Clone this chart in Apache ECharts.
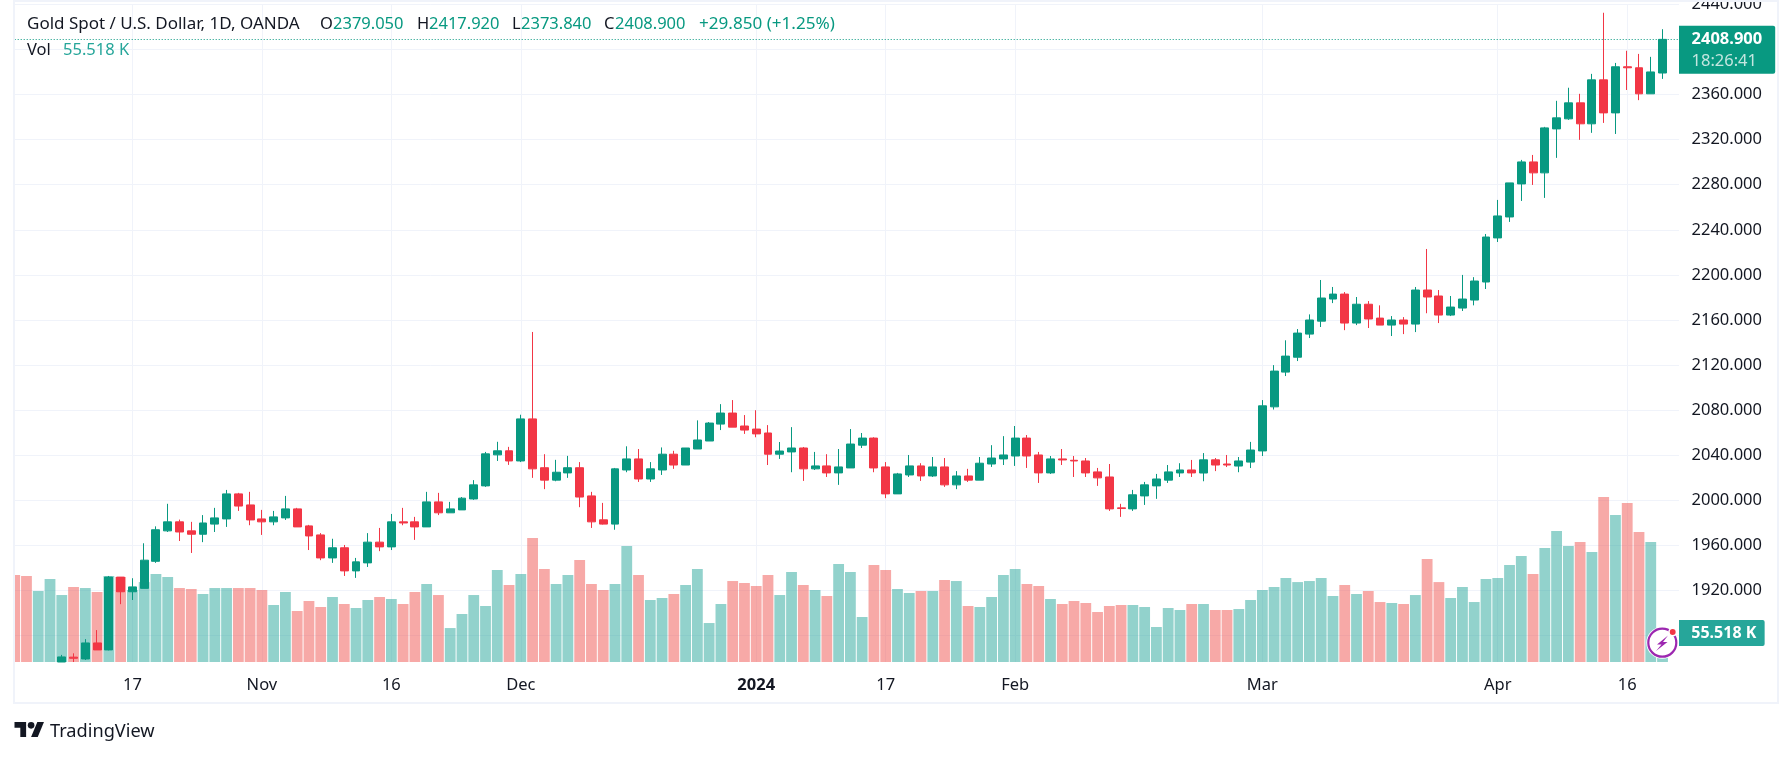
<!DOCTYPE html>
<html><head><meta charset="utf-8">
<style>html,body{margin:0;padding:0;background:#fff}#c{width:1792px;height:757px}</style>
<script src="https://cdn.jsdelivr.net/npm/echarts@6/dist/echarts.min.js"></script>
</head><body><div id="c"></div>
<script>
const dates = ['Oct 3','Oct 4','Oct 5','Oct 6','Oct 9','Oct 10','Oct 11','Oct 12','Oct 13','Oct 16','Oct 17','Oct 18','Oct 19','Oct 20','Oct 23','Oct 24','Oct 25','Oct 26','Oct 27','Oct 30','Oct 31','Nov 1','Nov 2','Nov 3','Nov 6','Nov 7','Nov 8','Nov 9','Nov 10','Nov 13','Nov 14','Nov 15','Nov 16','Nov 17','Nov 20','Nov 21','Nov 22','Nov 23','Nov 24','Nov 27','Nov 28','Nov 29','Nov 30','Dec 1','Dec 4','Dec 5','Dec 6','Dec 7','Dec 8','Dec 11','Dec 12','Dec 13','Dec 14','Dec 15','Dec 18','Dec 19','Dec 20','Dec 21','Dec 22','Dec 26','Dec 27','Dec 28','Dec 29','Jan 2','Jan 3','Jan 4','Jan 5','Jan 8','Jan 9','Jan 10','Jan 11','Jan 12','Jan 15','Jan 16','Jan 17','Jan 18','Jan 19','Jan 22','Jan 23','Jan 24','Jan 25','Jan 26','Jan 29','Jan 30','Jan 31','Feb 1','Feb 2','Feb 5','Feb 6','Feb 7','Feb 8','Feb 9','Feb 12','Feb 13','Feb 14','Feb 15','Feb 16','Feb 19','Feb 20','Feb 21','Feb 22','Feb 23','Feb 26','Feb 27','Feb 28','Feb 29','Mar 1','Mar 4','Mar 5','Mar 6','Mar 7','Mar 8','Mar 11','Mar 12','Mar 13','Mar 14','Mar 15','Mar 18','Mar 19','Mar 20','Mar 21','Mar 22','Mar 25','Mar 26','Mar 27','Mar 28','Apr 1','Apr 2','Apr 3','Apr 4','Apr 5','Apr 8','Apr 9','Apr 10','Apr 11','Apr 12','Apr 15','Apr 16','Apr 17','Apr 18','Apr 19',''];
const openP = [1828,1821,1820,1820,1856.7,1861,1859.4,1873.6,1867.4,1932,1919,1922,1946,1973,1981,1973,1970,1979,1983.6,2005.8,1996,1983.6,1981,1984.5,1992.5,1977.4,1969.4,1949,1958,1937.5,1944.6,1963,1958.8,1981,1981,1976.5,1998.7,1989,1991.6,2001.3,2012.9,2040.4,2044,2035,2072.3,2029,2018,2024.4,2029,2004,1982.8,1979,2027,2036.8,2019,2027,2041,2031.4,2045.6,2052.7,2067.7,2077.5,2066,2063.3,2059.8,2041,2043,2046.5,2028,2030.6,2024.4,2028.8,2049,2055.3,2029.7,2005.8,2022.6,2030.6,2021.7,2029.7,2013.8,2021.7,2018,2032.3,2036.8,2039.4,2055.3,2040.3,2024.4,2036.8,2035.6,2035,2025.3,2020.8,1993.4,1992.5,2004,2012.9,2018,2024.4,2027,2024.3,2036,2032.3,2030.5,2034,2043.9,2083,2113.8,2127,2147.5,2159,2178.6,2183,2157.3,2174,2161.7,2155.5,2160,2156.4,2186.6,2181.3,2164.4,2170.6,2177.7,2193.7,2232.8,2251.4,2280.7,2300.2,2290.5,2329.5,2338.4,2352.6,2334,2373,2343.7,2384.6,2383.7,2360.6,2379.05];
const closeP = [1821,1820,1820,1832,1861.2,1860,1873.6,1867.4,1932,1919,1923.3,1947,1974,1981,1972,1970,1980,1984.5,2005.8,1995,1982.7,1981,1985.4,1992.5,1976.5,1968.5,1949,1958,1937.5,1945.5,1963,1958.8,1981,1980,1976.5,1998.7,1989,1992.5,2002,2013.8,2041.3,2044,2035,2072.3,2028,2018,2025,2029,2003,1981,1979,2028,2036.8,2019,2028,2041,2031.4,2046.5,2053.6,2068.6,2077.5,2065,2062.4,2059,2041,2043.8,2046.5,2028,2030.6,2024.4,2029.7,2050,2055.3,2028.8,2005.8,2023.5,2030.6,2021.7,2029.7,2013.8,2021.7,2018,2033,2037.6,2040.3,2055.3,2039.4,2024.4,2036.8,2035.9,2035,2024.4,2020,1992.5,1992.8,2005,2013.8,2019,2025.3,2027,2024.4,2036,2031.4,2031.4,2035,2044.7,2083.9,2114.7,2128,2148.4,2160,2179.5,2183,2157.3,2174,2160.9,2155.5,2160,2156.4,2186.6,2180.4,2164.4,2171.5,2178.6,2194.6,2233.6,2252.3,2281.6,2300.2,2290.5,2330.4,2339.3,2352.6,2334,2373,2343.7,2384.6,2383.7,2360.6,2380,2408.9];
const lowP = [1815,1815,1813,1818,1856.7,1856.7,1858.5,1867.4,1867,1908,1911.7,1922,1944.6,1972,1964,1953.4,1963,1972,1976.5,1990.7,1978,1969.4,1978,1982.7,1976.5,1956,1947,1944.6,1933,1931.3,1941,1955,1956,1978,1965,1976.5,1987,1989,1991.6,2000.5,2012,2035,2031.5,2034,2020,2010,2017,2020,1994,1975.6,1978.6,1974,2025,2016.4,2016.4,2022.6,2028,2031.4,2045.6,2052.7,2062.4,2065,2059,2056,2031.4,2036.8,2025,2017.3,2027,2020.8,2013.8,2028.8,2046.5,2025,2002,2005.8,2020.8,2017.3,2020.8,2012,2010,2016.4,2018,2029.7,2031.4,2030.6,2028.8,2015.5,2023.5,2031.4,2020.8,2020.8,2012.9,1990.7,1985.4,1990.7,1996,2001.4,2015.5,2020.8,2020.8,2017,2026,2029.6,2025,2028.7,2039.4,2080.6,2110.3,2123.6,2144,2153.8,2175,2151,2155.5,2152.9,2155.5,2145.8,2147.5,2149.3,2166,2157.3,2163.5,2168,2173,2187.5,2229.2,2247,2265.6,2279.8,2268.3,2303.8,2337.5,2319.8,2326,2334.8,2325,2364,2355,2360.6,2373.84];
const highP = [1830,1823,1825,1835,1863,1864.4,1877,1885,1933,1932,1931,1962,1977,1997,1983,1981,1987,1993.4,2009.3,2006.7,2007.6,1991.6,1990.7,2004,1993.4,1978.3,1971,1966,1960.5,1949,1971,1975.6,1988,1993.4,1985.4,2007.6,2006.7,1998.7,2003,2018,2043,2052,2047.5,2076,2149.4,2041,2036,2039.5,2034,2007.6,1997.8,2028.8,2048,2045.6,2034,2047,2044,2046.5,2071,2069.5,2085.4,2089,2075.7,2080,2066.8,2051.8,2065,2047.4,2043,2041,2045.6,2063.3,2059.8,2056,2034,2024.4,2040.3,2033,2038.5,2037.6,2026,2028,2038.5,2049,2057,2066,2058,2043,2039.4,2045.6,2039.4,2037.6,2028.8,2032.3,1997,2009.3,2016.4,2023.5,2031.4,2033,2035.9,2042,2037.6,2040.3,2038.5,2051.9,2089,2120,2142,2152,2165,2195.5,2189.3,2184.8,2180.4,2176.8,2173,2163.5,2162.6,2189.3,2223,2186.6,2181.3,2200,2198,2236.3,2266.5,2281.6,2302,2306.4,2331.3,2354.4,2366,2360.6,2378.3,2432.5,2388,2398.8,2396,2393.4,2417.92];
const volumeK = [166.5,164.6,135.9,158.9,128.2,143.6,141.6,134,164.6,162.7,137.8,153,168.4,162.7,141.6,139.7,130.2,141.6,141.6,141.6,141.6,137.8,109.1,134,97.6,116.8,105.3,124.4,111,103.4,118.7,124.4,120.6,111,134,149.3,128.2,65,91.9,128.2,107.2,176,147.4,168.4,237.3,178,149.3,166.5,195.2,149.3,137.8,149.3,222,166.5,118.7,122.5,130.2,147.4,178,74.6,111,155,151.2,145.5,166.5,128.2,172.3,147.4,137.8,126.3,187.6,172.3,86.1,185.7,176,139.7,132.1,135.9,135.9,157,155,107.2,105.3,124.4,166.5,178,149.3,145.5,120.6,111,116.8,112.9,95.7,107.2,109.1,109.1,105.3,67,103.4,99.5,111,111,99.5,99.5,101.4,118.7,137.8,143.6,160.8,153,155,160.8,126.3,147.4,130.2,135.9,114.8,112.9,111,128.2,197,153,122.5,143.6,114.8,158.9,160.8,185.7,202.9,168.4,218.2,250.7,222,229.7,210.5,315.8,281.4,304.3,248.8,229.7,55.518];
const priceTicks = [1880,1920,1960,2000,2040,2080,2120,2160,2200,2240,2280,2320,2360,2400,2440];
const priceTickLabels = ['','1920.000','1960.000','2000.000','2040.000','2080.000','2120.000','2160.000','2200.000','2240.000','2280.000','2320.000','2360.000','','2440.000'];
const timeTicks = {'Oct 17':'17','Nov 1':'Nov','Nov 16':'16','Dec 1':'Dec','Jan 2':'2024','Jan 17':'17','Feb 1':'Feb','Mar 1':'Mar','Apr 1':'Apr','Apr 16':'16'};
const lastPrice = 2408.9, lastVol = 55.518;

const UP='#089981', DOWN='#F23645', INK='#131722', GRID='#F0F3FA', FONT='"Noto Sans",sans-serif';
const L=14.7, T=4.3, H=657.7, W=1659.6, FW=1664.3, PMIN=1856.7, PMAX=2440, VMAX=1259;
const isUp = i => closeP[i] >= openP[i];
const candles = closeP.map((c,i)=>[openP[i],c,lowP[i],highP[i]]);
const vols = volumeK.map((v,i)=>({value:v,itemStyle:{color:isUp(i)?'rgba(38,166,154,.5)':'rgba(239,83,80,.5)'}}));
const head=(text,left,top,color,size)=>({text,left,top,padding:0,textStyle:{color,fontSize:size||16.5,fontWeight:'normal',fontFamily:FONT}});
const chart=echarts.init(document.getElementById('c'),null,{renderer:'canvas'});
chart.setOption({
  animation:false,backgroundColor:'#fff',
  title:[
    head('Gold Spot / U.S. Dollar, 1D, OANDA',27,16,INK,17),
    head('O',320,16,INK),head('2379.050',333,16,UP),
    head('H',417,16,INK),head('2417.920',429,16,UP),
    head('L',512,16,INK),head('2373.840',521,16,UP),
    head('C',604,16,INK),head('2408.900',615,16,UP),
    head('+29.850 (+1.25%)',699,16,UP,17.1),
    head('Vol',27,42,INK),head('55.518 K',63,42,'#26A69A'),
    head('TradingView',50,723,INK,18.2)
  ],
  grid:[{left:L,top:T,width:W,height:H,outerBoundsMode:'none'},{left:L,top:T,width:FW,height:H,outerBoundsMode:'none'}],
  xAxis:[
    {type:'category',gridIndex:0,data:dates,boundaryGap:false,
     axisLine:{show:false},axisTick:{show:false},
     splitLine:{show:true,lineStyle:{color:GRID,width:1},interval:(i,v)=>v in timeTicks},
     axisLabel:{interval:(i,v)=>v in timeTicks,margin:15,color:INK,fontSize:16.5,fontFamily:FONT,
       formatter:v=>v==='Jan 2'?'{b|2024}':timeTicks[v],rich:{b:{fontWeight:'bold',fontSize:16.5,fontFamily:FONT,color:INK}}}},
    {type:'value',gridIndex:1,min:0,max:1,show:false}
  ],
  yAxis:[
    {type:'value',gridIndex:0,min:PMIN,max:PMAX,show:false},
    {type:'value',gridIndex:0,min:0,max:VMAX,show:false},
    {type:'value',gridIndex:1,min:PMIN,max:PMAX,position:'right',
     axisLine:{show:false},axisTick:{show:false,customValues:priceTicks},
     splitLine:{show:true,lineStyle:{color:GRID,width:1}},
     axisLabel:{customValues:priceTicks,margin:12.5,color:INK,fontSize:16.5,fontFamily:FONT,align:'left',padding:[2,0,0,0],
       formatter:v=>priceTickLabels[priceTicks.indexOf(Math.round(v))]}},
    {type:'value',gridIndex:1,min:0,max:VMAX,show:false}
  ],
  series:[
    {type:'bar',name:'Vol',xAxisIndex:0,yAxisIndex:1,data:vols,barWidth:10.8,z:2,silent:true,clip:true},
    {type:'candlestick',name:'Gold',xAxisIndex:0,yAxisIndex:0,data:candles,barWidth:8.4,z:3,silent:true,clip:true,
     itemStyle:{color:UP,color0:DOWN,borderColor:UP,borderColor0:DOWN,borderWidth:1}},
    {type:'line',xAxisIndex:1,yAxisIndex:2,data:[],z:5,silent:true,
     markLine:{silent:true,symbol:'none',animation:false,
       lineStyle:{color:UP,type:[1,2],width:1.2},
       data:[{yAxis:lastPrice}],
       label:{show:true,position:'end',distance:0,offset:[0,10.5],formatter:'{a|'+lastPrice.toFixed(3)+'}\n{b|18:26:41}',
         backgroundColor:UP,padding:[2,13,2,12.5],borderRadius:[0,2,2,0],align:'left',verticalAlign:'middle',
         rich:{a:{color:'#fff',fontWeight:'bold',fontSize:16.5,lineHeight:22,fontFamily:FONT},b:{color:'#c4e6e0',fontSize:16.5,lineHeight:22,fontFamily:FONT}}}}},
    {type:'line',xAxisIndex:1,yAxisIndex:3,data:[],z:5,silent:true,
     markLine:{silent:true,symbol:'none',animation:false,lineStyle:{color:'rgba(0,0,0,0)',width:0},
       data:[{yAxis:lastVol}],
       label:{show:true,position:'end',distance:0,formatter:lastVol.toFixed(3)+' K',color:'#fff',fontWeight:'bold',fontSize:16,fontFamily:FONT,
         backgroundColor:'#26A69A',padding:[5,8.3,5,12.3],borderRadius:[0,2,2,0],align:'left',verticalAlign:'middle'}}}
  ],
  graphic:[
    {type:'rect',silent:true,z:10,shape:{x:0,y:0,width:13.5,height:703},style:{fill:'#fff'}},
    {type:'rect',silent:true,z:11,shape:{x:14,y:1,width:1764,height:702},style:{fill:'none',stroke:GRID,lineWidth:2}},
    {type:'polygon',silent:true,z:20,x:14.5,y:718.7,scaleX:.83,scaleY:.83,shape:{points:[[14,22],[7,22],[7,11],[0,11],[0,4],[14,4]]},style:{fill:INK}},
    {type:'polygon',silent:true,z:20,x:14.5,y:718.7,scaleX:.83,scaleY:.83,shape:{points:[[28,22],[20,22],[27.5,4],[35.5,4]]},style:{fill:INK}},
    {type:'circle',silent:true,z:20,x:14.5,y:718.7,scaleX:.83,scaleY:.83,shape:{cx:20,cy:8,r:4},style:{fill:INK}},
    {type:'circle',silent:true,z:20,shape:{cx:1662.3,cy:642.7,r:16},style:{fill:'#fff'}},
    {type:'circle',silent:true,z:20,shape:{cx:1662.3,cy:642.7,r:14},style:{fill:'#fff',stroke:'#9C27B0',lineWidth:2.2}},
    {type:'polygon',silent:true,z:21,shape:{points:[[1668,635.5],[1657,644.5],[1661.5,644.5],[1656,651],[1667.5,642],[1663,642]]},style:{fill:'#9C27B0'}},
    {type:'circle',silent:true,z:22,shape:{cx:1672.7,cy:632,r:3.7},style:{fill:DOWN,stroke:'#fff',lineWidth:1.5}}
  ]
});
</script></body></html>
